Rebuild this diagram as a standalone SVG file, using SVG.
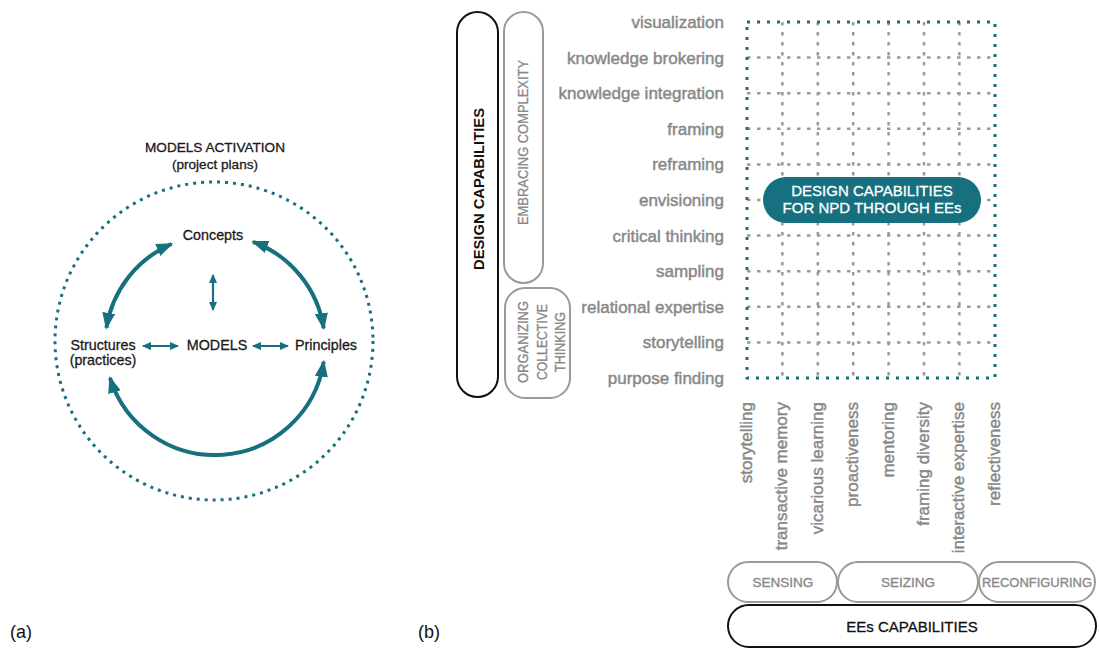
<svg xmlns="http://www.w3.org/2000/svg" width="1099" height="650" viewBox="0 0 1099 650">
<style>
text{font-family:"Liberation Sans",Arial,sans-serif}
.dk{fill:#1a1a1a;font-size:14.3px;stroke:#1a1a1a;stroke-width:0.3}
.lbl{fill:#888;font-size:17px;stroke:#888;stroke-width:0.45}
.cap{fill:#888;font-size:13.5px;stroke:#888;stroke-width:0.35}
.teal{stroke:#17707f;fill:none}
.gdash{stroke:#9b9b9b;stroke-width:2.5;stroke-dasharray:3.5 6.5;fill:none}
.gbox{fill:#fff;stroke:#9a9a9a;stroke-width:2}
.bbox{fill:#fff;stroke:#111;stroke-width:2}
</style>
<defs>
<marker id="ah" markerUnits="userSpaceOnUse" markerWidth="17" markerHeight="13" refX="15" refY="6.5" orient="auto-start-reverse">
<path d="M0,0 L17,6.5 L0,13 z" fill="#17707f"/>
</marker>
<marker id="as" markerUnits="userSpaceOnUse" markerWidth="9" markerHeight="8" refX="8" refY="4" orient="auto-start-reverse">
<path d="M0,0 L9,4 L0,8 z" fill="#17707f"/>
</marker>
</defs>
<rect width="1099" height="650" fill="#fff"/>

<!-- (a) -->
<g id="activation">
<circle cx="214" cy="341" r="159" class="teal" stroke-width="3" stroke-dasharray="3 5"/>
<text x="215" y="152" text-anchor="middle" style="fill:#1a1a1a;font-size:13.6px;stroke:#1a1a1a;stroke-width:0.3">MODELS ACTIVATION</text>
<text x="215" y="169" text-anchor="middle" style="fill:#1a1a1a;font-size:13.6px;stroke:#1a1a1a;stroke-width:0.3">(project plans)</text>
</g>
<g id="connectors-a">
<path d="M106.4,327.8 A110,110 0 0 1 171.5,244" class="teal" stroke-width="4" marker-start="url(#ah)" marker-end="url(#ah)"/>
<path d="M253,241.8 A110,110 0 0 1 323.7,328.2" class="teal" stroke-width="4" marker-start="url(#ah)" marker-end="url(#ah)"/>
<path d="M323.7,361.8 A110,110 0 0 1 110,377.9" class="teal" stroke-width="4" marker-start="url(#ah)" marker-end="url(#ah)"/>
<line x1="213" y1="275" x2="213" y2="310" class="teal" stroke-width="2.2" marker-start="url(#as)" marker-end="url(#as)"/>
<line x1="143" y1="346" x2="178" y2="346" class="teal" stroke-width="2.2" marker-start="url(#as)" marker-end="url(#as)"/>
<line x1="253" y1="346" x2="288" y2="346" class="teal" stroke-width="2.2" marker-start="url(#as)" marker-end="url(#as)"/>
</g>
<g id="concepts"><text x="213" y="240" text-anchor="middle" class="dk">Concepts</text></g>
<g id="structures"><text x="103" y="350" text-anchor="middle" class="dk">Structures</text><text x="103" y="365" text-anchor="middle" class="dk">(practices)</text></g>
<g id="models"><text x="217" y="350" text-anchor="middle" class="dk">MODELS</text></g>
<g id="principles"><text x="326" y="350" text-anchor="middle" class="dk">Principles</text></g>
<text x="10" y="638" style="fill:#111;font-size:18px">(a)</text>
<text x="418" y="638" style="fill:#111;font-size:18px">(b)</text>

<!-- (b) left groupings -->
<g id="design-capabilities">
<rect x="457" y="12" width="41" height="385" rx="20.5" class="bbox"/>
<text transform="translate(484,189) rotate(-90)" text-anchor="middle" textLength="162" lengthAdjust="spacingAndGlyphs" style="fill:#111;font-size:14.5px;font-weight:bold">DESIGN CAPABILITIES</text>
</g>
<g id="embracing-complexity">
<rect x="504" y="12" width="39" height="271" rx="19.5" class="gbox"/>
<text transform="translate(528,142.5) rotate(-90)" text-anchor="middle" textLength="165" lengthAdjust="spacingAndGlyphs" style="fill:#888;font-size:15px;stroke:#888;stroke-width:0.3">EMBRACING COMPLEXITY</text>
</g>
<g id="organizing-collective-thinking">
<rect x="505" y="288" width="65" height="110" rx="20" class="gbox"/>
<text transform="translate(528,342) rotate(-90)" text-anchor="middle" textLength="82" lengthAdjust="spacingAndGlyphs" class="cap" style="font-size:14px">ORGANIZING</text>
<text transform="translate(547,342) rotate(-90)" text-anchor="middle" textLength="76" lengthAdjust="spacingAndGlyphs" class="cap" style="font-size:14px">COLLECTIVE</text>
<text transform="translate(565,342) rotate(-90)" text-anchor="middle" textLength="60" lengthAdjust="spacingAndGlyphs" class="cap" style="font-size:14px">THINKING</text>
</g>

<!-- row labels -->
<g id="row-labels" text-anchor="end">
<text x="724" y="28" class="lbl">visualization</text>
<text x="724" y="63.6" class="lbl">knowledge brokering</text>
<text x="724" y="99.2" class="lbl">knowledge integration</text>
<text x="724" y="134.8" class="lbl">framing</text>
<text x="724" y="170.4" class="lbl">reframing</text>
<text x="724" y="206" class="lbl">envisioning</text>
<text x="724" y="241.6" class="lbl">critical thinking</text>
<text x="724" y="277.2" class="lbl">sampling</text>
<text x="724" y="312.8" class="lbl">relational expertise</text>
<text x="724" y="348.4" class="lbl">storytelling</text>
<text x="724" y="384" class="lbl">purpose finding</text>
</g>

<!-- grid -->
<g id="grid">
<path class="gdash" d="M782.4,22V378 M817.8,22V378 M853.2,22V378 M888.6,22V378 M924,22V378 M959.4,22V378
M747,57.6H995 M747,93.2H995 M747,128.8H995 M747,164.4H995 M747,200H995 M747,235.6H995 M747,271.2H995 M747,306.8H995 M747,342.4H995"/>
<rect x="747" y="22" width="248" height="356" class="teal" stroke-width="3" stroke-dasharray="3 7"/>
</g>
<g id="design-npd">
<rect x="763" y="177" width="218" height="46" rx="23" fill="#17707f"/>
<text x="872" y="196.4" text-anchor="middle" style="fill:#fff;font-size:15px;stroke:#fff;stroke-width:0.3">DESIGN CAPABILITIES</text>
<text x="872" y="212.6" text-anchor="middle" style="fill:#fff;font-size:15px;stroke:#fff;stroke-width:0.3">FOR NPD THROUGH EEs</text>
</g>

<!-- column labels -->
<g id="column-labels" text-anchor="end">
<text transform="translate(752,402) rotate(-90)" class="lbl">storytelling</text>
<text transform="translate(787.4,402) rotate(-90)" class="lbl">transactive memory</text>
<text transform="translate(822.8,402) rotate(-90)" class="lbl">vicarious learning</text>
<text transform="translate(858.2,402) rotate(-90)" class="lbl">proactiveness</text>
<text transform="translate(893.6,402) rotate(-90)" class="lbl">mentoring</text>
<text transform="translate(929,402) rotate(-90)" class="lbl">framing diversity</text>
<text transform="translate(964.4,402) rotate(-90)" class="lbl">interactive expertise</text>
<text transform="translate(999.8,402) rotate(-90)" class="lbl">reflectiveness</text>
</g>

<!-- bottom groupings -->
<g id="sensing"><rect x="728" y="562" width="109" height="40" rx="20" class="gbox"/><text x="783" y="587" text-anchor="middle" class="cap">SENSING</text></g>
<g id="seizing"><rect x="838" y="562" width="140" height="40" rx="20" class="gbox"/><text x="908" y="587" text-anchor="middle" class="cap">SEIZING</text></g>
<g id="reconfiguring"><rect x="979" y="562" width="116" height="40" rx="20" class="gbox"/><text x="1037" y="587" text-anchor="middle" textLength="110" lengthAdjust="spacingAndGlyphs" class="cap">RECONFIGURING</text></g>
<g id="ees-capabilities"><rect x="728" y="605" width="368" height="42" rx="21" class="bbox"/><text x="912" y="631.5" text-anchor="middle" style="fill:#111;font-size:15px;stroke:#111;stroke-width:0.3">EEs CAPABILITIES</text></g>
</svg>
